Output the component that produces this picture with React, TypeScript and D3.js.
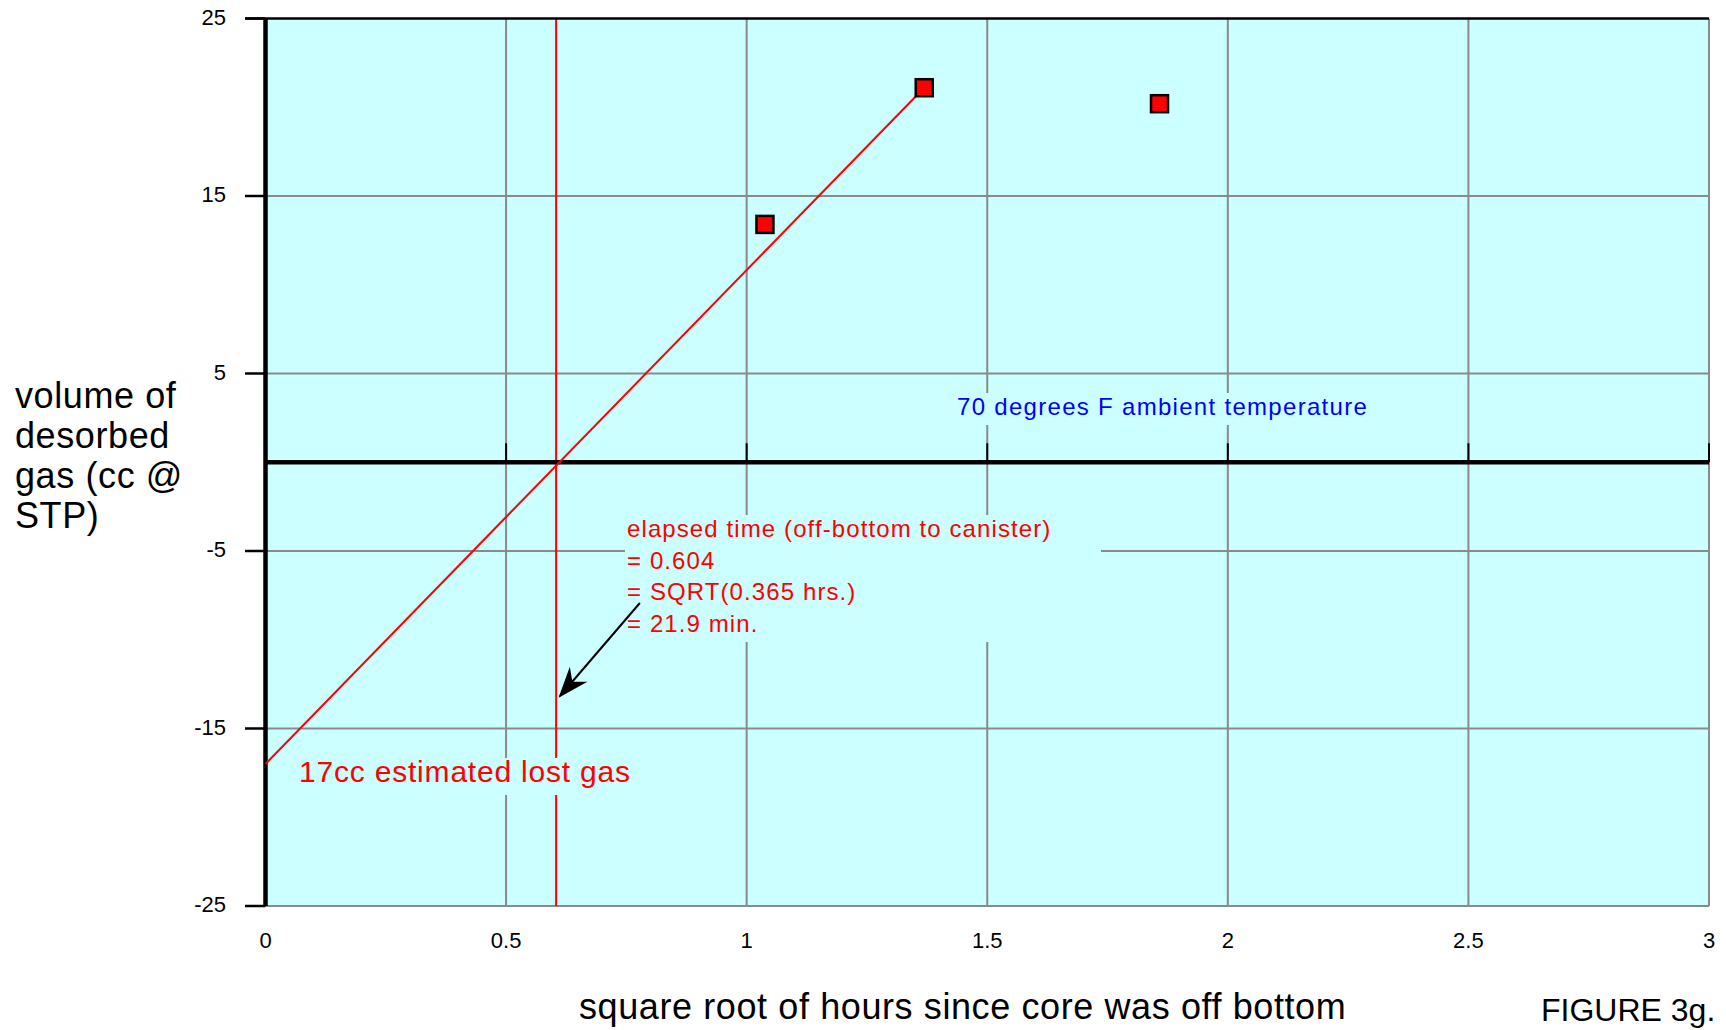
import * as d3 from 'd3'

// axis ticks
const xTicks = [0, 0.5, 1, 1.5, 2, 2.5, 3]
const yTicks = [25, 15, 5, -5, -15, -25]

// measured desorption points (sqrt hours, cc)
const pointX = [1.038, 1.369, 1.858]
const pointY = [13.4, 21.1, 20.2]

// lost gas fit line, back-extrapolated to t = 0
const fitX = [0, 1.369]
const fitY = [-17, 21.1]

const elapsedTime = 0.604

const yLabelLines = ['volume of', 'desorbed', 'gas (cc @', 'STP)']
const elapsedLines = [
  'elapsed time (off-bottom to canister)',
  '= 0.604',
  '= SQRT(0.365 hrs.)',
  '= 21.9 min.',
]

const FONT = '"Liberation Sans", Arial, Helvetica, sans-serif'

export default function App() {
  const width = 1726
  const height = 1030
  const left = 265.5
  const right = 1709
  const top = 18.5
  const bottom = 906

  const x = d3.scaleLinear().domain([0, 3]).range([left, right])
  const y = d3.scaleLinear().domain([-25, 25]).range([bottom, top])

  const fitLine = d3.line<number>()
    .x((_, i) => x(fitX[i]))
    .y((_, i) => y(fitY[i]))(fitX)

  // arrow from the note down to the elapsed-time line
  const a0 = [x(0.778), y(-7.93)]
  const a1 = [x(0.612), y(-13.17)]
  const ang = Math.atan2(a1[1] - a0[1], a1[0] - a0[0])
  const headLen = 28
  const spread = 0.36
  const b1 = [a1[0] - headLen * Math.cos(ang - spread), a1[1] - headLen * Math.sin(ang - spread)]
  const b2 = [a1[0] - headLen * Math.cos(ang + spread), a1[1] - headLen * Math.sin(ang + spread)]
  const mid = [a1[0] - 18 * Math.cos(ang), a1[1] - 18 * Math.sin(ang)]

  const grid = '#8a8a8a'
  const ms = 17

  return (
    <svg
      width={width}
      height={height}
      style={{ position: 'absolute', left: 0, top: 0, background: '#fff' }}
      fontFamily={FONT}
    >
      {/* plot background */}
      <rect x={left} y={top} width={right - left} height={bottom - top} fill="#ccffff" />

      {/* grid */}
      {xTicks.filter(d => d > 0).map(d => (
        <line key={'gx' + d} x1={x(d)} x2={x(d)} y1={top} y2={bottom} stroke={grid} strokeWidth={2} />
      ))}
      {yTicks.filter(d => d < 25).map(d => (
        <line key={'gy' + d} x1={left} x2={right} y1={y(d)} y2={y(d)} stroke={grid} strokeWidth={2} />
      ))}

      {/* elapsed time marker */}
      <line x1={x(elapsedTime)} x2={x(elapsedTime)} y1={top} y2={bottom} stroke="#ff0000" strokeWidth={2} />

      {/* label backgrounds hide the grid underneath */}
      <rect x={948} y={393} width={425} height={32} fill="#ccffff" />
      <rect x={290} y={758} width={350} height={37} fill="#ccffff" />
      <rect x={625} y={515} width={476} height={127} fill="#ccffff" />

      <text x={957} y={415} fill="#0000ff" fontSize={24} letterSpacing={1.3}>
        70 degrees F ambient temperature
      </text>
      <text x={299} y={782} fill="#ff0000" fontSize={30} letterSpacing={0.8}>
        17cc estimated lost gas
      </text>
      {elapsedLines.map((t, i) => (
        <text key={t} x={627} y={537 + i * 31.7} fill="#ff0000" fontSize={24} letterSpacing={1.1}>
          {t}
        </text>
      ))}

      {/* top border */}
      <line x1={245} x2={right} y1={top} y2={top} stroke="#000" strokeWidth={2.5} />

      {/* zero line with ticks */}
      <line x1={left} x2={right} y1={y(0)} y2={y(0)} stroke="#000" strokeWidth={4.5} />
      {xTicks.filter(d => d > 0).map(d => (
        <line key={'zt' + d} x1={x(d)} x2={x(d)} y1={y(0) - 19} y2={y(0)} stroke="#000" strokeWidth={2} />
      ))}

      {/* left axis */}
      <line x1={left} x2={left} y1={top} y2={bottom} stroke="#000" strokeWidth={4.5} />
      {yTicks.map(d => (
        <g key={'yt' + d}>
          <line x1={245} x2={left} y1={y(d)} y2={y(d)} stroke="#000" strokeWidth={2.5} />
          <text x={226} y={y(d) + 6} textAnchor="end" fontSize={22}>{d}</text>
        </g>
      ))}

      {xTicks.map(d => (
        <text key={'xl' + d} x={x(d)} y={948} textAnchor="middle" fontSize={22}>{d}</text>
      ))}

      {/* fit line and points */}
      <path d={fitLine ?? ''} fill="none" stroke="#ff0000" strokeWidth={2} />
      {pointX.map((px, i) => (
        <rect
          key={'p' + i}
          x={x(px) - ms / 2}
          y={y(pointY[i]) - ms / 2}
          width={ms}
          height={ms}
          fill="#ff0000"
          stroke="#000"
          strokeWidth={2.5}
        />
      ))}

      {/* arrow */}
      <line x1={a0[0]} y1={a0[1]} x2={a1[0]} y2={a1[1]} stroke="#000" strokeWidth={2} />
      <path
        d={`M${a1[0]},${a1[1]}L${b1[0]},${b1[1]}L${mid[0]},${mid[1]}L${b2[0]},${b2[1]}Z`}
        fill="#000"
        stroke="#000"
        strokeWidth={1.5}
        strokeLinejoin="miter"
      />

      {/* axis titles */}
      {yLabelLines.map((t, i) => (
        <text key={t} x={15} y={[408, 448, 488, 528][i]} fontSize={36} letterSpacing={0.6}>{t}</text>
      ))}
      <text x={579} y={1019} fontSize={36} letterSpacing={0.6}>
        square root of hours since core was off bottom
      </text>
      <text x={1541} y={1021} fontSize={32}>FIGURE 3g.</text>
    </svg>
  )
}
